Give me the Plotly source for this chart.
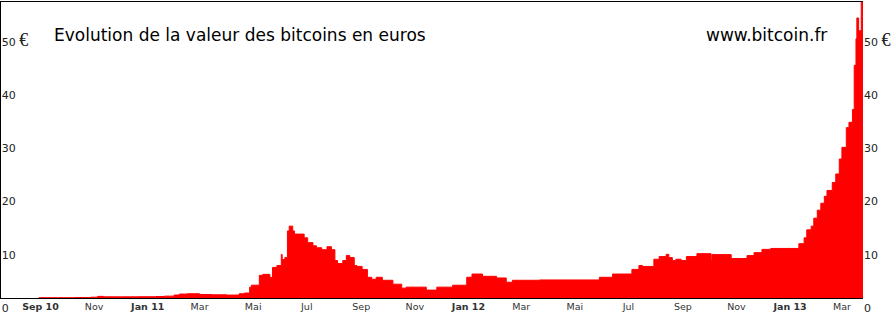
import plotly.graph_objects as go

dates = [
    "2010-08-30", "2010-09-20", "2010-10-10", "2010-10-28", "2010-11-05", "2010-11-12",
    "2010-12-01", "2010-12-20", "2011-01-10", "2011-01-20", "2011-01-31", "2011-02-06",
    "2011-02-15", "2011-03-01", "2011-03-15", "2011-04-01", "2011-04-15", "2011-04-21",
    "2011-04-27", "2011-04-29", "2011-05-08", "2011-05-12", "2011-05-20", "2011-05-23",
    "2011-05-28", "2011-06-02", "2011-06-03", "2011-06-06", "2011-06-09", "2011-06-11",
    "2011-06-15", "2011-06-17", "2011-06-28", "2011-07-02", "2011-07-08", "2011-07-12",
    "2011-07-18", "2011-07-24", "2011-07-29", "2011-08-02", "2011-08-05", "2011-08-11",
    "2011-08-15", "2011-08-19", "2011-08-24", "2011-08-27", "2011-09-02", "2011-09-08",
    "2011-09-13", "2011-09-18", "2011-09-25", "2011-10-07", "2011-10-17", "2011-10-22",
    "2011-11-14", "2011-11-26", "2011-12-14", "2011-12-30", "2012-01-05", "2012-01-17",
    "2012-02-02", "2012-02-13", "2012-02-20", "2012-03-22", "2012-05-29", "2012-06-13",
    "2012-07-05", "2012-07-13", "2012-07-17", "2012-07-30", "2012-08-05", "2012-08-13",
    "2012-08-16", "2012-08-20", "2012-08-24", "2012-08-30", "2012-09-05", "2012-09-17",
    "2012-10-03", "2012-10-04", "2012-10-26", "2012-11-13", "2012-11-21", "2012-11-30",
    "2012-12-10", "2013-01-11", "2013-01-17", "2013-01-20", "2013-01-25", "2013-01-28",
    "2013-02-01", "2013-02-05", "2013-02-09", "2013-02-12", "2013-02-18", "2013-02-22",
    "2013-02-26", "2013-03-01", "2013-03-06", "2013-03-09", "2013-03-13", "2013-03-15",
    "2013-03-17", "2013-03-18", "2013-03-20", "2013-03-23", "2013-03-26",
]
values = [
    0.06, 0.06, 0.09, 0.15, 0.30, 0.22,
    0.22, 0.24, 0.28, 0.35, 0.56, 0.74,
    0.80, 0.65, 0.60, 0.55, 0.80, 0.93,
    2.04, 2.41, 4.26, 4.44, 3.89, 5.74,
    6.11, 8.15, 7.22, 7.59, 12.6, 13.5,
    12.6, 12.0, 11.3, 10.4, 9.80, 9.44,
    9.07, 9.63, 9.07, 7.04, 6.48, 7.04,
    7.96, 7.59, 6.11, 5.93, 5.37, 3.89,
    3.52, 3.89, 3.33, 2.59, 1.85, 2.04,
    1.48, 2.04, 2.40, 3.90, 4.50, 4.07,
    3.76, 2.96, 3.33, 3.39, 3.89, 4.50,
    5.37, 6.11, 5.93, 7.28, 7.78, 8.20,
    7.59, 7.04, 7.28, 7.04, 7.78, 8.33,
    7.04, 8.15, 7.41, 7.96, 8.52, 9.13,
    9.31, 10.2, 11.3, 12.8, 13.5, 15.0,
    16.5, 17.8, 19.1, 20.2, 21.7, 23.3,
    26.1, 28.3, 32.0, 33.0, 35.4, 43.7,
    48.7, 52.6, 50.2, 58.0, 58.0,
]

tick_dates = [
    "2010-09-01", "2010-11-01", "2011-01-01", "2011-03-01", "2011-05-01", "2011-07-01",
    "2011-09-01", "2011-11-01", "2012-01-01", "2012-03-01", "2012-05-01", "2012-07-01",
    "2012-09-01", "2012-11-01", "2013-01-01", "2013-03-01",
]
tick_labels = [
    "<b>Sep 10</b>", "Nov", "<b>Jan 11</b>", "Mar", "Mai", "Jul",
    "Sep", "Nov", "<b>Jan 12</b>", "Mar", "Mai", "Jul",
    "Sep", "Nov", "<b>Jan 13</b>", "Mar",
]
y_ticks = [0, 10, 20, 30, 40, 50]
euro = "<span style='font-family:Liberation Serif;font-size:18px'>€</span>"
y_labels = ["0", "10", "20", "30", "40", "50 " + euro]

title_text = "Evolution de la valeur des bitcoins en euros"
site_text = "www.bitcoin.fr"

fig = go.Figure()
fig.add_trace(go.Scatter(
    x=dates, y=values, mode="lines", line=dict(color="#ff0000", width=1, shape="hv"),
    fill="tozeroy", fillcolor="#ff0000", hoverinfo="skip", showlegend=False,
))

tick_font = dict(family="DejaVu Sans", size=11, color="#222222")
fig.update_layout(
    width=892, height=316,
    margin=dict(l=1, r=28, t=1, b=15, pad=0),
    paper_bgcolor="white", plot_bgcolor="white",
    xaxis=dict(
        type="date", range=["2010-07-18", "2013-03-25"],
        tickvals=tick_dates, ticktext=tick_labels,
        tickfont=dict(family="DejaVu Sans", size=9.5, color="#333333"),
        showgrid=False, zeroline=False, showline=True, linecolor="black",
        linewidth=1, mirror=True, ticks="",
    ),
    yaxis=dict(
        range=[0, 55.6], tickvals=y_ticks, ticktext=y_labels,
        tickfont=tick_font, ticklabelposition="inside", ticklabeloverflow="allow",
        ticklabelshift=10, ticklabelstandoff=0,
        showgrid=False, zeroline=False, showline=True, linecolor="black",
        linewidth=1, ticks="",
    ),
    yaxis2=dict(
        range=[0, 55.6], tickvals=y_ticks, ticktext=y_labels, overlaying="y",
        side="right", anchor="x", tickfont=tick_font, ticklabelshift=10,
        ticklabeloverflow="allow",
        showgrid=False, zeroline=False, showline=False, ticks="",
    ),
    annotations=[
        dict(text=title_text, xref="paper", yref="paper", x=0.0591, y=0.89,
             xanchor="left", yanchor="middle", showarrow=False,
             font=dict(family="DejaVu Sans", size=17, color="black")),
        dict(text=site_text, xref="paper", yref="paper", x=0.8158, y=0.89,
             xanchor="left", yanchor="middle", showarrow=False,
             font=dict(family="DejaVu Sans", size=17, color="black")),
    ],
)
fig.add_trace(go.Scatter(x=[dates[0]], y=[None], yaxis="y2", showlegend=False,
                         hoverinfo="skip"))

fig.write_html("out.html")
